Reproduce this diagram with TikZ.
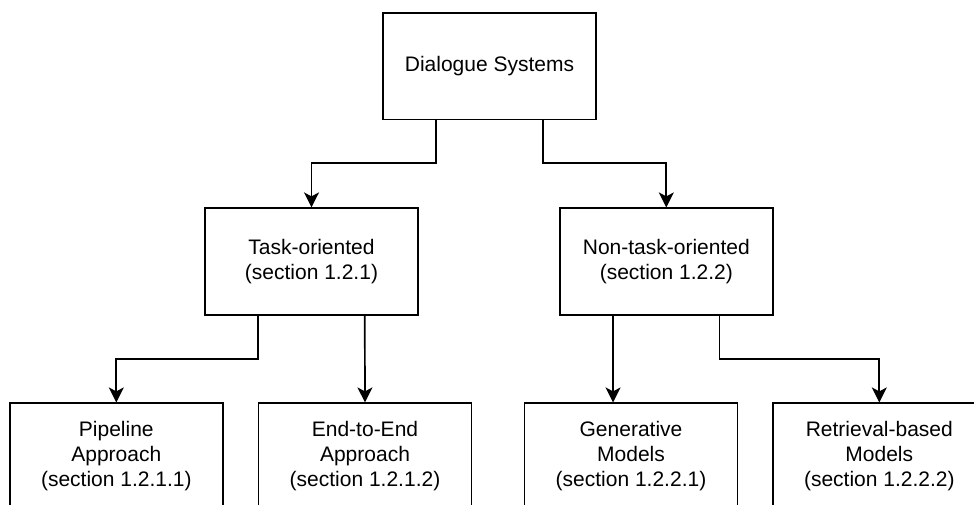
\documentclass[tikz,border=0pt]{standalone}
\usepackage{fontspec}
\setmainfont{Liberation Sans}
\usetikzlibrary{arrows.meta}
\begin{document}
\begin{tikzpicture}[x=1pt,y=-1pt,
  box/.style={draw, line width=1.7pt, minimum width=213pt, minimum height=106.5pt,
    inner sep=0pt, align=center, font=\fontsize{21}{25}\selectfont},
  link/.style={line width=1.7pt,
    -{Stealth[length=15pt,width=15pt,inset=4pt]}}]
\useasboundingbox (0,0) rectangle (974,504);
% tree of boxes
\node[box] (root) at (489.5,66.3) {Dialogue Systems};
\node[box] (task) at (311.5,261.5) {Task-oriented\\(section 1.2.1)};
\node[box] (nontask) at (666.3,261.5) {Non-task-oriented\\(section 1.2.2)};
\node[box] (pipe) at (116.3,456.5) {Pipeline\\Approach\\(section 1.2.1.1)};
\node[box] (e2e) at (365,456.5) {End-to-End\\Approach\\(section 1.2.1.2)};
\node[box] (gen) at (631,456.5) {Generative\\Models\\(section 1.2.2.1)};
\node[box] (ret) at (879.3,456.5) {Retrieval-based\\Models\\(section 1.2.2.2)};
% elbow connectors
\draw[link] ([xshift=-53.25pt]root.south) |- (task.north |- 0,163.3) -- (task.north);
\draw[link] ([xshift=53.25pt]root.south) |- (nontask.north |- 0,163.3) -- (nontask.north);
\draw[link] ([xshift=-53.25pt]task.south) |- (pipe.north |- 0,359.3) -- (pipe.north);
\draw[link] ([xshift=53.25pt]task.south) -- (e2e.north);
\draw[link] ([xshift=-53.25pt]nontask.south) -- ([xshift=-53.25pt]nontask.south |- gen.north);
\draw[link] ([xshift=53.25pt]nontask.south) |- (ret.north |- 0,359.3) -- (ret.north);
\end{tikzpicture}
\end{document}
